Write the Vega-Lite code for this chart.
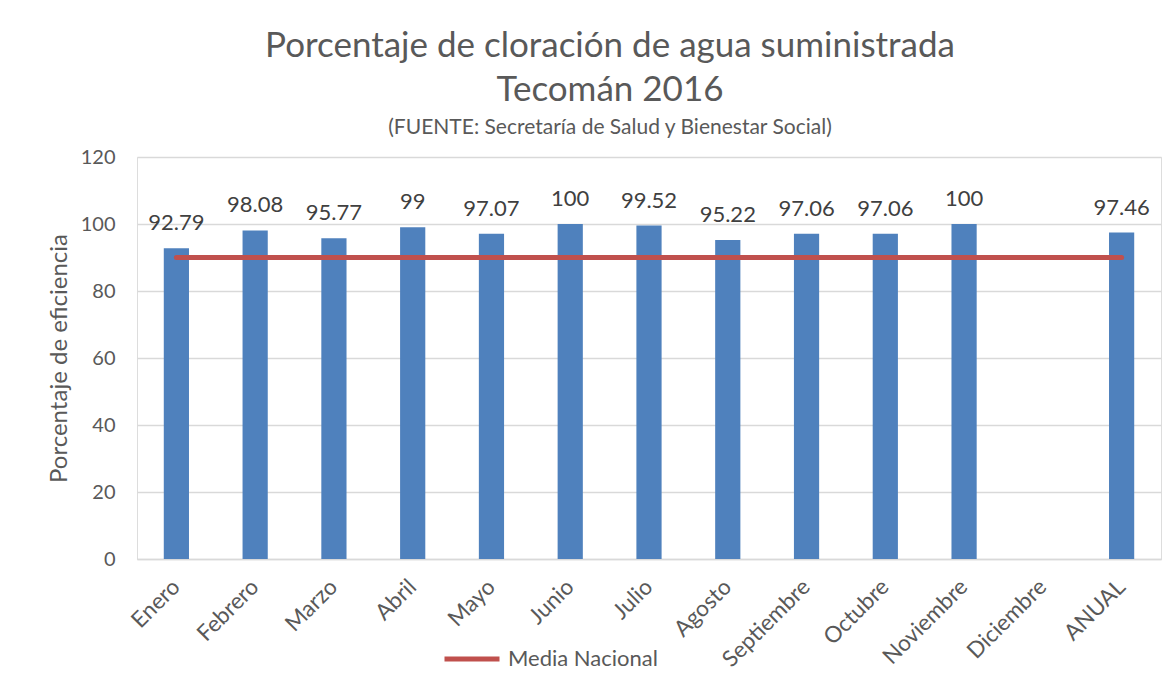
{
  "$schema": "https://vega.github.io/schema/vega-lite/v6.json",
  "width": 1024,
  "height": 402,
  "autosize": {"type": "none"},
  "padding": {"left": 137, "top": 157, "right": 11, "bottom": 124},
  "background": "white",
  "title": {
    "text": ["Porcentaje de cloración de agua suministrada", "Tecomán 2016"],
    "subtitle": "(FUENTE: Secretaría de Salud y Bienestar Social)",
    "anchor": "middle",
    "frame": "group",
    "dx": -39,
    "offset": 9,
    "font": "Lato",
    "fontSize": 35,
    "fontWeight": "normal",
    "color": "#595959",
    "lineHeight": 44,
    "subtitleFont": "Lato",
    "subtitleFontSize": 21,
    "subtitleColor": "#595959",
    "subtitlePadding": 9
  },
  "data": {
    "values": [
      {"mes": "Enero", "valor": 92.79, "media": 90},
      {"mes": "Febrero", "valor": 98.08, "media": 90},
      {"mes": "Marzo", "valor": 95.77, "media": 90},
      {"mes": "Abril", "valor": 99, "media": 90},
      {"mes": "Mayo", "valor": 97.07, "media": 90},
      {"mes": "Junio", "valor": 100, "media": 90},
      {"mes": "Julio", "valor": 99.52, "media": 90},
      {"mes": "Agosto", "valor": 95.22, "media": 90},
      {"mes": "Septiembre", "valor": 97.06, "media": 90},
      {"mes": "Octubre", "valor": 97.06, "media": 90},
      {"mes": "Noviembre", "valor": 100, "media": 90},
      {"mes": "Diciembre", "valor": null, "media": 90},
      {"mes": "ANUAL", "valor": 97.46, "media": 90}
    ]
  },
  "encoding": {
    "x": {
      "field": "mes",
      "type": "nominal",
      "sort": ["Enero", "Febrero", "Marzo", "Abril", "Mayo", "Junio", "Julio", "Agosto", "Septiembre", "Octubre", "Noviembre", "Diciembre", "ANUAL"],
      "scale": {"paddingInner": 0.68, "paddingOuter": 0.34, "domain": ["Enero", "Febrero", "Marzo", "Abril", "Mayo", "Junio", "Julio", "Agosto", "Septiembre", "Octubre", "Noviembre", "Diciembre", "ANUAL"]},
      "axis": {
        "title": null,
        "labelAngle": -45,
        "labelAlign": "right",
        "labelBaseline": "middle",
        "labelFont": "Lato",
        "labelFontSize": 22.5,
        "labelColor": "#595959",
        "labelPadding": 24,
        "ticks": false,
        "domainColor": "#D9D9D9",
        "domainWidth": 1.5,
        "grid": false
      }
    }
  },
  "layer": [
    {
      "mark": {"type": "bar", "color": "#4F81BD"},
      "encoding": {
        "y": {
          "field": "valor",
          "type": "quantitative",
          "scale": {"domain": [0, 120], "nice": false},
          "axis": {
            "title": "Porcentaje de eficiencia",
            "titleFont": "Lato",
            "titleFontSize": 24,
            "titleFontWeight": "normal",
            "titleColor": "#595959",
            "titlePadding": 9,
            "values": [0, 20, 40, 60, 80, 100, 120],
            "labelFont": "Lato",
            "labelFontSize": 20,
            "labelColor": "#595959",
            "labelPadding": 22,
            "ticks": false,
            "domain": false,
            "grid": true,
            "gridColor": "#D9D9D9",
            "gridWidth": 1.5
          }
        }
      }
    },
    {
      "mark": {"type": "text", "font": "Lato", "fontSize": 22, "color": "#404040", "baseline": "alphabetic", "dy": -18},
      "encoding": {
        "y": {"field": "valor", "type": "quantitative"},
        "text": {"field": "valor", "type": "quantitative"}
      }
    },
    {
      "mark": {"type": "line", "strokeWidth": 5, "strokeCap": "round"},
      "encoding": {
        "y": {"field": "media", "type": "quantitative"},
        "color": {
          "datum": "Media Nacional",
          "scale": {"range": ["#C0504D"]},
          "legend": {
            "title": null,
            "orient": "none",
            "legendX": 305,
            "legendY": 472,
            "symbolType": "stroke",
            "symbolSize": 3025,
            "symbolStrokeWidth": 5,
            "labelFont": "Lato",
            "labelFontSize": 22,
            "labelColor": "#595959",
            "labelOffset": 6
          }
        }
      }
    }
  ]
}
